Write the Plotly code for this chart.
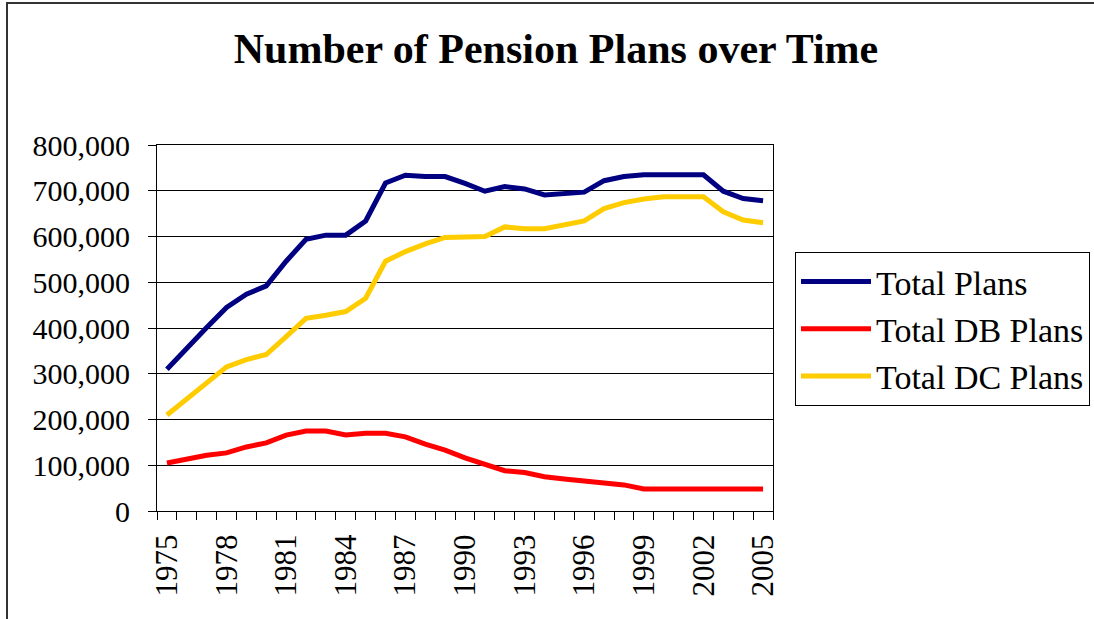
import plotly.graph_objects as go

years = list(range(1975, 2006))
total_plans = [310000, 357000, 401000, 445000, 474000, 492000, 546000, 594000, 603000, 603000,
               634000, 717000, 734000, 731000, 731000, 716000, 699000, 709000, 704000, 691000,
               695000, 697000, 722000, 731000, 735000, 735000, 735000, 735000, 699000, 683000, 678000]
total_db = [105000, 114000, 122000, 127000, 140000, 149000, 166000, 175000, 175000, 166000,
            170000, 170000, 162000, 146000, 133000, 116000, 103000, 88000, 84000, 75000,
            70000, 66000, 61000, 57000, 48000, 48000, 48000, 48000, 48000, 48000, 48000]
total_dc = [210000, 246000, 281000, 315000, 331000, 342000, 381000, 421000, 428000, 436000,
            465000, 546000, 567000, 584000, 598000, 600000, 600000, 621000, 617000, 617000,
            625000, 634000, 661000, 674000, 682000, 687000, 687000, 687000, 654000, 636000, 630000]
x_labels = list(range(1975, 2006, 3))
y_ticks = list(range(0, 800001, 100000))

FONT = '"Liberation Serif", "Times New Roman", serif'
series = [("Total Plans", total_plans, "#000080"),
          ("Total DB Plans", total_db, "#FF0000"),
          ("Total DC Plans", total_dc, "#FFCC00")]

fig = go.Figure()
for name, vals, col in series:
    fig.add_trace(go.Scatter(x=years, y=vals, name=name, mode="lines",
                             line=dict(color=col, width=5), legendgroup=name))

fig.update_layout(
    width=1094, height=619,
    margin=dict(l=157, r=321, t=145, b=108, autoexpand=False),
    paper_bgcolor="white", plot_bgcolor="white",
    font=dict(family=FONT, color="black"),
    title=dict(text="<b>Number of Pension Plans over Time</b>",
               font=dict(family=FONT, size=42, color="black"),
               x=556/1094, xanchor="center", xref="container",
               y=1-48/619, yanchor="middle", yref="container"),
    showlegend=True,
    legend=dict(x=795/1094, y=1-252/619, xref="container", yref="container",
                xanchor="left", yanchor="top",
                bordercolor="black", borderwidth=1, bgcolor="white",
                font=dict(family=FONT, size=34, color="black"),
                tracegroupgap=0, itemwidth=70),
)
fig.update_xaxes(
    range=[1974.5, 2005.5], tickmode="array", tickvals=x_labels,
    ticktext=[str(v) for v in x_labels], tickangle=-90, ticks="",
    tickfont=dict(family=FONT, size=31), showgrid=False,
    showline=True, linecolor="black", linewidth=1, mirror=True,
    ticklabelstandoff=10,
    minor=dict(tickmode="linear", tick0=1974.5, dtick=1, ticks="outside",
               ticklen=8, tickcolor="black", showgrid=False),
)
fig.update_yaxes(
    range=[0, 800000], tickmode="array", tickvals=y_ticks,
    ticktext=[f"{v:,}" for v in y_ticks], ticks="outside", ticklen=8, tickcolor="black",
    tickfont=dict(family=FONT, size=30), showgrid=True, gridcolor="black", gridwidth=1,
    showline=True, linecolor="black", linewidth=1, mirror=True, zeroline=False,
    ticklabelstandoff=12,
)
# outer chart border
fig.add_shape(type="rect", xref="paper", yref="paper",
              x0=(7-157)/616, x1=(1110-157)/616, y0=(511-640)/366, y1=(511-3)/366,
              line=dict(color="#333333", width=2), fillcolor="rgba(0,0,0,0)", layer="below")
fig.write_html("out.html", config={"displayModeBar": False},
               post_script="document.body.style.margin='0';")
